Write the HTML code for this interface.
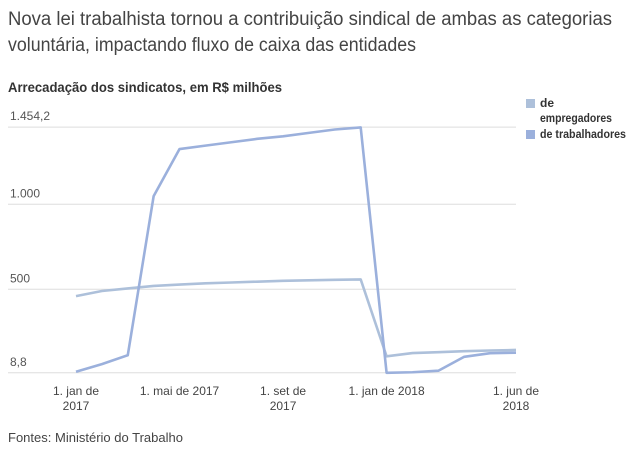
<!DOCTYPE html>
<html><head><meta charset="utf-8"><style>
body{margin:0;background:#fff;}
svg{display:block;font-family:"Liberation Sans Narrow","Liberation Sans",sans-serif;}
</style></head><body>
<svg id="chart" width="643" height="465" viewBox="0 0 643 465">
<text x="8" y="25" font-size="19" fill="#444" textLength="604" lengthAdjust="spacingAndGlyphs">Nova lei trabalhista tornou a contribuição sindical de ambas as categorias</text>
<text x="8" y="51" font-size="19" fill="#444" textLength="408" lengthAdjust="spacingAndGlyphs">voluntária, impactando fluxo de caixa das entidades</text>
<text x="8" y="92" font-size="14" font-weight="bold" fill="#333" textLength="274" lengthAdjust="spacingAndGlyphs">Arrecadação dos sindicatos, em R$ milhões</text>
<g id="grid"></g>
<g id="xlabels"></g>
<g id="lines"></g>
<g>
<rect x="526" y="99" width="9" height="9" fill="#adc0da"/>
<text x="540" y="107" font-size="12" font-weight="bold" fill="#333">de</text>
<text x="540" y="122" font-size="12" font-weight="bold" fill="#333" textLength="72" lengthAdjust="spacingAndGlyphs">empregadores</text>
<rect x="526" y="130" width="9" height="9" fill="#9bb0dc"/>
<text x="540" y="138" font-size="12" font-weight="bold" fill="#333" textLength="86" lengthAdjust="spacingAndGlyphs">de trabalhadores</text>
</g>
<text x="8" y="442" font-size="13" fill="#444" textLength="175" lengthAdjust="spacingAndGlyphs">Fontes: Ministério do Trabalho</text>
</svg>
<script>
const months = ["jan17","fev17","mar17","abr17","mai17","jun17","jul17","ago17","set17","out17","nov17","dez17","jan18","fev18","mar18","abr18","mai18","jun18"];
const trabalhadores = [15, 60, 112, 1048, 1325, 1345, 1365, 1385, 1400, 1420, 1440, 1452, 9, 12, 21, 103, 124, 127];
const empregadores = [460, 490, 505, 520, 528, 535, 540, 545, 550, 553, 556, 558, 106, 125, 130, 136, 140, 143];
const yTicks = [8.8, 500, 1000, 1454.2];
const yTickLabels = ["8,8", "500", "1.000", "1.454,2"];
const xTickMonths = [0, 4, 8, 12, 17];
const xTickLine1 = ["1. jan de", "1. mai de 2017", "1. set de", "1. jan de 2018", "1. jun de"];
const xTickLine2 = ["2017", "", "2017", "", "2018"];

const NS = "http://www.w3.org/2000/svg";
const y = v => 372.8 - (v - 8.8) * 0.17;
const x = i => 76 + i * (440 / 17);

const grid = document.getElementById('grid');
yTicks.forEach((t, i) => {
  const l = document.createElementNS(NS, 'line');
  
  
  l.setAttribute('x1', 8); l.setAttribute('x2', 516);
  l.setAttribute('y1', y(t)); l.setAttribute('y2', y(t));
  l.setAttribute('stroke', '#ddd'); l.setAttribute('stroke-width', '1');
  grid.appendChild(l);
  const tx = document.createElementNS(NS, 'text');
  
  
  tx.setAttribute('x', 10); tx.setAttribute('y', y(t) - 7);
  tx.setAttribute('font-size', '12'); tx.setAttribute('fill', '#555');
  tx.textContent = yTickLabels[i];
  grid.appendChild(tx);
});

const xg = document.getElementById('xlabels');
xTickMonths.forEach((m, i) => {
  [xTickLine1[i], xTickLine2[i]].forEach((s, k) => {
    if (!s) return;
    const tx = document.createElementNS(NS, 'text');
    
    
    tx.setAttribute('x', x(m)); tx.setAttribute('y', 395 + k * 15);
    tx.setAttribute('text-anchor', 'middle');
    tx.setAttribute('font-size', '12'); tx.setAttribute('fill', '#444');
    tx.textContent = s;
    xg.appendChild(tx);
  });
});

const lg = document.getElementById('lines');
function drawLine(vals, color, name) {
  const p = document.createElementNS(NS, 'polyline');
  
  
  p.setAttribute('points', vals.map((v, i) => x(i) + ',' + y(v)).join(' '));
  p.setAttribute('fill', 'none'); p.setAttribute('stroke', color);
  p.setAttribute('stroke-width', '2.6'); p.setAttribute('stroke-linejoin', 'round');
  lg.appendChild(p);
}
drawLine(empregadores, '#adc0da', 'line-empregadores');
drawLine(trabalhadores, '#9bb0dc', 'line-trabalhadores');
</script>
</body></html>
